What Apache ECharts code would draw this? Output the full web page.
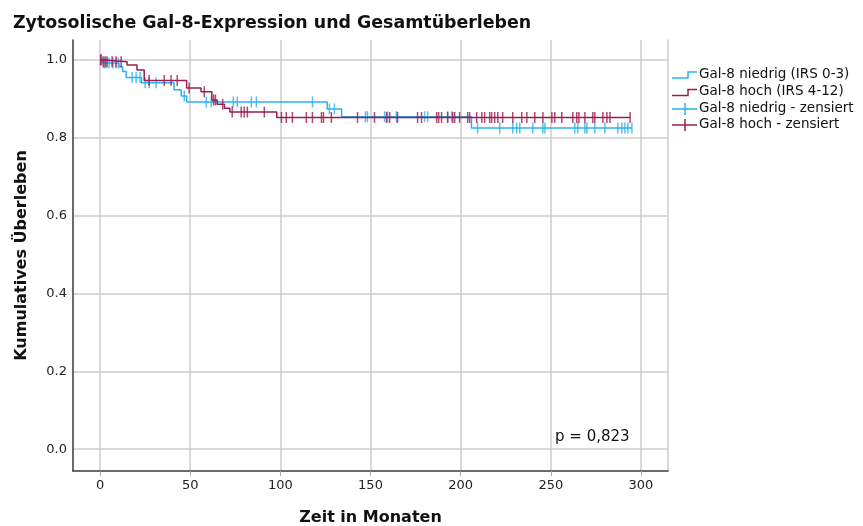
<!DOCTYPE html>
<html>
<head>
<meta charset="utf-8">
<script src="https://cdn.jsdelivr.net/npm/echarts@6/dist/echarts.min.js"></script>
<style>
  html, body { margin: 0; padding: 0; background: #fff; }
  #chart { width: 863px; height: 526px; }
</style>
</head>
<body>
<div id="chart"></div>
<script>
// Kaplan-Meier steps: time (months) of each drop and survival from that time on
const lowTimes = [0, 1.5, 10.5, 12.5, 14.5, 23, 41, 45, 48, 126, 134, 206];
const lowSurv  = [1.0, 0.992, 0.982, 0.970, 0.955, 0.941, 0.923, 0.907, 0.892, 0.874, 0.854, 0.825];
const lowEnd = 295;

const highTimes = [0, 1, 15, 20.5, 24.5, 48, 56, 62, 65, 69, 72, 98];
const highSurv  = [1.0, 0.995, 0.987, 0.974, 0.947, 0.928, 0.918, 0.897, 0.886, 0.876, 0.866, 0.852];
const highEnd = 294;

// censored observations (months)
const lowCensored = [2.2, 3.3, 5, 7.2, 8.9, 10.2, 17.8, 20, 22.2, 25, 27.2, 31.1, 46.7, 58.9, 61.7,
  73.9, 76.1, 83.9, 86.7, 117.8, 127.2, 130, 147.2, 148.3, 157.8, 159.4, 164.4, 180, 181.7,
  192.8, 195, 209.4, 221.7, 228.9, 231.1, 232.8, 240, 245.6, 246.7, 263.3, 265, 268.9, 270,
  274.4, 280, 287.2, 289.4, 291.1, 292.8, 295];
const highCensored = [0.3, 0.6, 1.7, 2.8, 3.9, 6.7, 8.9, 11.7, 27.2, 35.6, 39.4, 42.8, 49.4, 57.8,
  63, 64, 68, 73.3, 78.3, 80, 81.7, 91.1, 100.6, 103.3, 106.7, 114.4, 117.8, 122.8, 123.9,
  128.3, 142.8, 152.2, 158.9, 160.6, 165, 176.1, 178.3, 186.7, 187.8, 189.4, 192.8, 195.6,
  196.7, 199.4, 203.9, 205, 208.9, 211.7, 213.3, 216.1, 217.2, 218.9, 220.6, 223.3, 228.9,
  233.9, 236.7, 241.1, 245.6, 250.6, 252.2, 256.1, 262.2, 264.4, 265.6, 268.9, 273.3, 274.4,
  278.9, 281.1, 282.8, 294];

const xTicks = [0, 50, 100, 150, 200, 250, 300];
const yTicks = [0, 0.2, 0.4, 0.6, 0.8, 1.0];

const seriesNames = ['Gal-8 niedrig (IRS 0-3)', 'Gal-8 hoch (IRS 4-12)',
                     'Gal-8 niedrig - zensiert', 'Gal-8 hoch - zensiert'];
const pValueText = 'p = 0,823';

const BLUE = '#2BB1EE';
const RED = '#9B1D50';
const FONT = 'DejaVu Sans';

function stepPoints(times, surv, end) {
  const pts = times.map((t, i) => [t, surv[i]]);
  pts.push([end, surv[surv.length - 1]]);
  return pts;
}
function survAt(times, surv, t) {
  let s = surv[0];
  for (let i = 0; i < times.length; i++) if (times[i] <= t) s = surv[i];
  return s;
}
function censorPoints(list, times, surv) {
  return list.map(t => [t, survAt(times, surv, t)]);
}

const chart = echarts.init(document.getElementById('chart'), null, { renderer: 'canvas' });

const gridColor = '#cccccc';
const axisColor = '#3a3a3a';

// legend drawn as small glyphs: step icon for curves, cross for censor marks
const legX = 672, legTextX = 699;
const legRows = [75, 92.5, 109, 125];
const legend = [];
[BLUE, RED].forEach((c, i) => {
  const y = legRows[i];
  legend.push({
    type: 'polyline', silent: true,
    shape: { points: [[legX, y + 3], [legX + 16, y + 3], [legX + 16, y - 3], [legX + 25, y - 3]] },
    style: { stroke: c, lineWidth: 1.5, fill: null }
  });
});
[BLUE, RED].forEach((c, i) => {
  const y = legRows[i + 2];
  legend.push({ type: 'line', silent: true, shape: { x1: legX, y1: y, x2: legX + 25, y2: y }, style: { stroke: c, lineWidth: 1.5 } });
  legend.push({ type: 'line', silent: true, shape: { x1: legX + 13, y1: y - 6, x2: legX + 13, y2: y + 6 }, style: { stroke: c, lineWidth: 1.5 } });
});
seriesNames.forEach((n, i) => {
  legend.push({
    type: 'text', silent: true, left: legTextX, top: legRows[i] - 8,
    style: { text: n, fill: '#111', fontFamily: FONT, fontSize: 13.5 }
  });
});
legend.push({
  type: 'text', silent: true, left: 555, top: 430,
  style: { text: pValueText, fill: '#111', fontFamily: FONT, fontSize: 15 }
});

chart.setOption({
  animation: false,
  backgroundColor: '#fff',
  title: {
    text: 'Zytosolische Gal-8-Expression und Gesamtüberleben',
    left: 8, top: 10,
    textStyle: { fontFamily: FONT, fontSize: 17.4, fontWeight: 'bold', color: '#111' }
  },
  grid: { left: 73, right: 195, top: 40, bottom: 55, containLabel: false, outerBoundsMode: 'none' },
  xAxis: {
    type: 'value', min: -15, max: 315,
    name: 'Zeit in Monaten', nameLocation: 'middle', nameGap: 39,
    nameTextStyle: { fontFamily: FONT, fontSize: 16, fontWeight: 'bold', color: '#111' },
    axisLine: { onZero: false, lineStyle: { color: axisColor, width: 1.5 } },
    axisTick: { show: true, length: 5, customValues: xTicks, lineStyle: { color: '#aaa' } },
    axisLabel: { customValues: xTicks, margin: 8, fontFamily: FONT, fontSize: 13, color: '#222' },
    splitLine: { show: true, lineStyle: { color: gridColor, width: 1.5 } }
  },
  yAxis: [{
    type: 'value', min: -0.056, max: 1.051,
    name: 'Kumulatives Überleben', nameLocation: 'middle', nameGap: 43,
    nameTextStyle: { fontFamily: FONT, fontSize: 16, fontWeight: 'bold', color: '#111' },
    axisLine: { show: true, onZero: false, lineStyle: { color: axisColor, width: 1.5 } },
    axisTick: { show: false, customValues: yTicks },
    axisLabel: { customValues: yTicks, margin: 6, fontFamily: FONT, fontSize: 13, color: '#222',
                 formatter: v => v.toFixed(1) },
    splitLine: { show: true, lineStyle: { color: gridColor, width: 1.5 } }
  }, {
    type: 'value', min: -0.056, max: 1.051, position: 'right',
    axisLine: { show: true, onZero: false, lineStyle: { color: gridColor, width: 1.5 } },
    axisTick: { show: false }, axisLabel: { show: false }, splitLine: { show: false }
  }],
  series: [
    {
      name: seriesNames[0], type: 'line', step: 'end', showSymbol: false, z: 2,
      data: stepPoints(lowTimes, lowSurv, lowEnd),
      lineStyle: { color: BLUE, width: 1.5 }
    },
    {
      name: seriesNames[2], type: 'scatter', z: 3,
      symbol: 'rect', symbolSize: [1.5, 11],
      data: censorPoints(lowCensored, lowTimes, lowSurv),
      itemStyle: { color: BLUE }
    },
    {
      name: seriesNames[1], type: 'line', step: 'end', showSymbol: false, z: 4,
      data: stepPoints(highTimes, highSurv, highEnd),
      lineStyle: { color: RED, width: 1.5 }
    },
    {
      name: seriesNames[3], type: 'scatter', z: 5,
      symbol: 'rect', symbolSize: [1.5, 11],
      data: censorPoints(highCensored, highTimes, highSurv),
      itemStyle: { color: RED }
    }
  ],
  graphic: legend
});
</script>
</body>
</html>
